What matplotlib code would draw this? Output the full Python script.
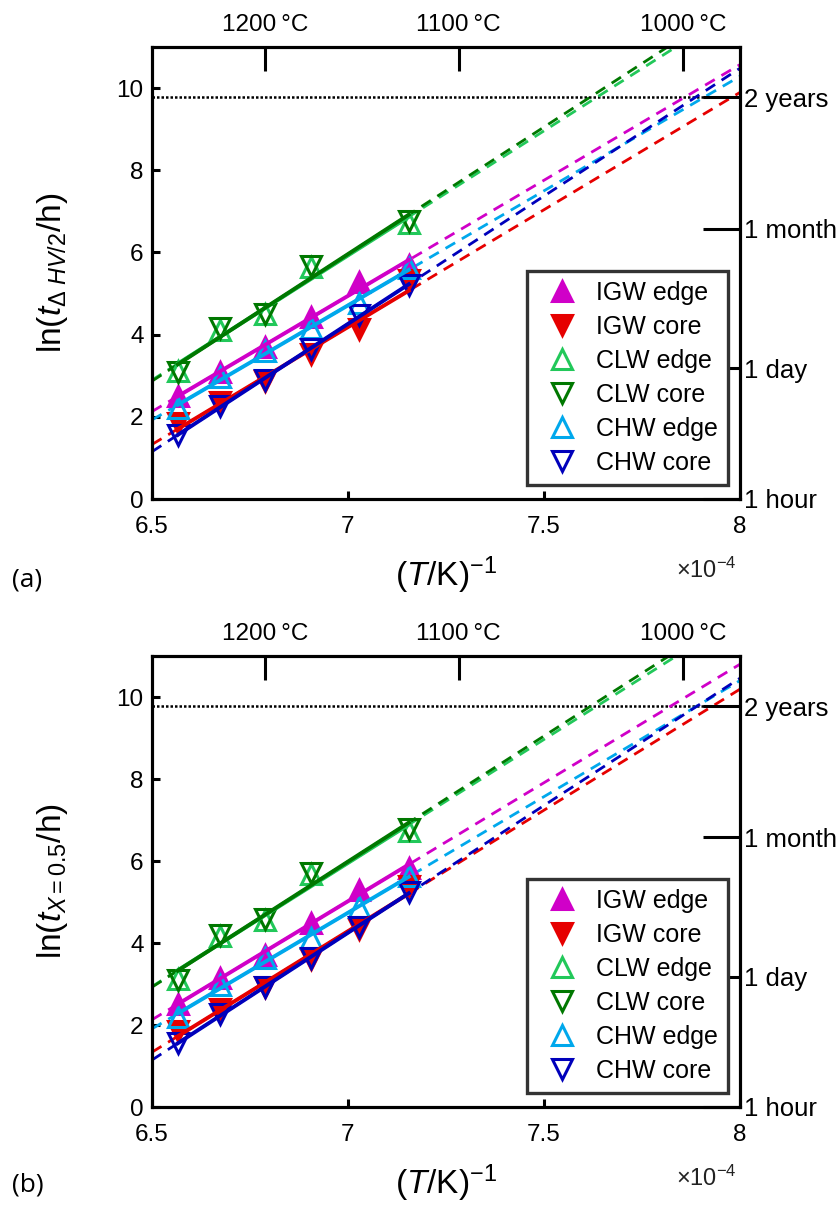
import numpy as np
import matplotlib
matplotlib.use("Agg")
import matplotlib.pyplot as plt
from matplotlib.lines import Line2D

plt.rcParams['font.family'] = ['Liberation Sans', 'DejaVu Sans']
plt.rcParams['mathtext.fontset'] = 'custom'
plt.rcParams['mathtext.rm'] = 'Liberation Sans'
plt.rcParams['mathtext.it'] = 'Liberation Sans:italic'
plt.rcParams['mathtext.bf'] = 'Liberation Sans:bold'

# ---------------- data ----------------
# inverse temperature (x 1e-4 1/K), for 1250,1225,1200,1175,1150,1125 degC
x_invT = [6.566, 6.674, 6.788, 6.906, 7.028, 7.155]

series_names = ["IGW edge", "IGW core", "CLW edge", "CLW core", "CHW edge", "CHW core"]

# panel (a): ln(t_dHV/2 / h)
a_igw_edge = [2.50, 3.10, 3.70, 4.42, 5.27, 5.70]
a_igw_core = [1.84, 2.36, 2.86, 3.53, 4.13, 5.34]
a_clw_edge = [3.12, 4.12, 4.50, 5.65, np.nan, 6.72]
a_clw_core = [3.08, 4.15, 4.50, 5.67, np.nan, 6.77]
a_chw_edge = [2.21, 2.98, 3.60, 4.16, 4.78, 5.62]
a_chw_core = [1.56, 2.27, 2.90, 3.66, 4.47, 5.22]

# panel (b): ln(t_X=0.5 / h)
b_igw_edge = [2.52, 3.15, 3.70, 4.50, 5.30, 5.84]
b_igw_core = [1.85, 2.40, 2.92, 3.60, 4.35, 5.40]
b_clw_edge = [3.12, 4.18, 4.57, 5.68, np.nan, 6.72]
b_clw_core = [3.10, 4.20, 4.58, 5.70, np.nan, 6.77]
b_chw_edge = [2.20, 2.97, 3.63, 4.12, 4.88, 5.63]
b_chw_core = [1.55, 2.27, 2.92, 3.63, 4.40, 5.25]

# top axis temperatures (degC) and right axis times (hours)
top_temps_C = [1200, 1100, 1000]
top_labels = ["1200\u2009°C", "1100\u2009°C", "1000\u2009°C"]
right_hours = [1, 24, 720, 17520]
right_labels = ["1 hour", "1 day", "1 month", "2 years"]

x_ticks = [6.5, 7, 7.5, 8]
x_ticklabels = ["6.5", "7", "7.5", "8"]
y_ticks = [0, 2, 4, 6, 8, 10]

# ---------------- styles ----------------
styles = [
    dict(marker='^', color='#d000c8', filled=True),
    dict(marker='v', color='#e60000', filled=True),
    dict(marker='^', color='#22c85a', filled=False),
    dict(marker='v', color='#007800', filled=False),
    dict(marker='^', color='#00a8ec', filled=False),
    dict(marker='v', color='#0000bb', filled=False),
]

fig = plt.figure(figsize=(8.4, 12.11), dpi=100)

W, H = 840, 1211
def axrect(l, r, t, b):
    return [l / W, 1 - b / H, (r - l) / W, (b - t) / H]

panels = [
    dict(rect=axrect(152, 740, 47, 499),
         data=[a_igw_edge, a_igw_core, a_clw_edge, a_clw_core, a_chw_edge, a_chw_core],
         ylabel=r'ln($t_{\Delta\ HV/2}$/h)', tag='(a)', tag_y=580),
    dict(rect=axrect(152, 740, 656, 1107),
         data=[b_igw_edge, b_igw_core, b_clw_edge, b_clw_core, b_chw_edge, b_chw_core],
         ylabel=r'ln($t_{X=0.5}$/h)', tag='(b)', tag_y=1185),
]

lw_spine = 2.2
x_arr = np.array(x_invT)
x_full = np.array([6.5, 8.0])

for p in panels:
    ax = fig.add_axes(p['rect'])
    ax.set_xlim(6.5, 8)
    ax.set_ylim(0, 11)
    handles = []
    for name, vals, st in zip(series_names, p['data'], styles):
        y = np.array(vals, dtype=float)
        m = ~np.isnan(y)
        k, c = np.polyfit(x_arr[m], y[m], 1)
        ax.plot(x_full, k * x_full + c, ls=(0, (4, 2.8)), color=st['color'], lw=2.0, zorder=2)
        xs = np.array([x_arr[m].min(), x_arr[m].max()])
        ax.plot(xs, k * xs + c, ls='-', color=st['color'], lw=2.8, zorder=4)
        fc = st['color'] if st['filled'] else 'none'
        ax.plot(x_arr[m], y[m], ls='none', marker=st['marker'], ms=15, mew=2.2,
                mec=st['color'], mfc=fc, zorder=3)
        handles.append(Line2D([], [], ls='none', marker=st['marker'], ms=15, mew=2.2,
                              mec=st['color'], mfc=fc, label=name))
    ax.axhline(np.log(17520), color='k', lw=1.8, ls=(0, (1, 0.8)), zorder=1)

    ax.set_xticks(x_ticks)
    ax.set_xticklabels(x_ticklabels)
    ax.set_yticks(y_ticks)
    ax.tick_params(direction='in', length=6, width=lw_spine, labelsize=17.5,
                   top=False, right=False, pad=6)
    ax.tick_params(axis='x', pad=12)
    for s in ax.spines.values():
        s.set_linewidth(lw_spine)

    ax.set_ylabel(p['ylabel'], fontsize=24)
    ax.yaxis.set_label_coords(-0.14, 0.5)
    ax.text(0.5, -0.168, r'$(\mathit{T}/\mathrm{K})^{-1}$', transform=ax.transAxes,
            ha='center', va='center', fontsize=24)
    ax.text(0.995, -0.158, r'$\times\mathrm{10}^{-4}$', transform=ax.transAxes,
            ha='right', va='center', fontsize=17, color='#222222')

    # right axis (time)
    axr = ax.twinx()
    axr.set_ylim(0, 11)
    axr.set_yticks(np.log(right_hours))
    axr.set_yticklabels(right_labels)
    axr.tick_params(direction='in', length=27, width=lw_spine, labelsize=18.5, pad=3)
    for s in axr.spines.values():
        s.set_linewidth(lw_spine)

    # top axis (temperature)
    axt = ax.twiny()
    axt.set_xlim(6.5, 8)
    axt.set_xticks([1e4 / (t + 273.15) for t in top_temps_C])
    axt.set_xticklabels(top_labels)
    axt.tick_params(direction='in', length=17, width=lw_spine, labelsize=17.5, pad=8)
    for s in axt.spines.values():
        s.set_linewidth(lw_spine)

    leg = axt.legend(handles=handles, loc='lower right', bbox_to_anchor=(0.9795, 0.031),
                     fontsize=18, frameon=True, fancybox=False, framealpha=1,
                     edgecolor='#333333', handlelength=2.0, handletextpad=0.35,
                     labelspacing=0.4, borderpad=0.4, borderaxespad=0)
    leg.get_frame().set_linewidth(2.4)
    leg.set_zorder(10)

    fig.text(12 / W, 1 - p['tag_y'] / H, p['tag'], fontsize=19, family=['Open Sans', 'DejaVu Sans'],
             ha='left', va='center')

fig.savefig('out.png', dpi=100)
